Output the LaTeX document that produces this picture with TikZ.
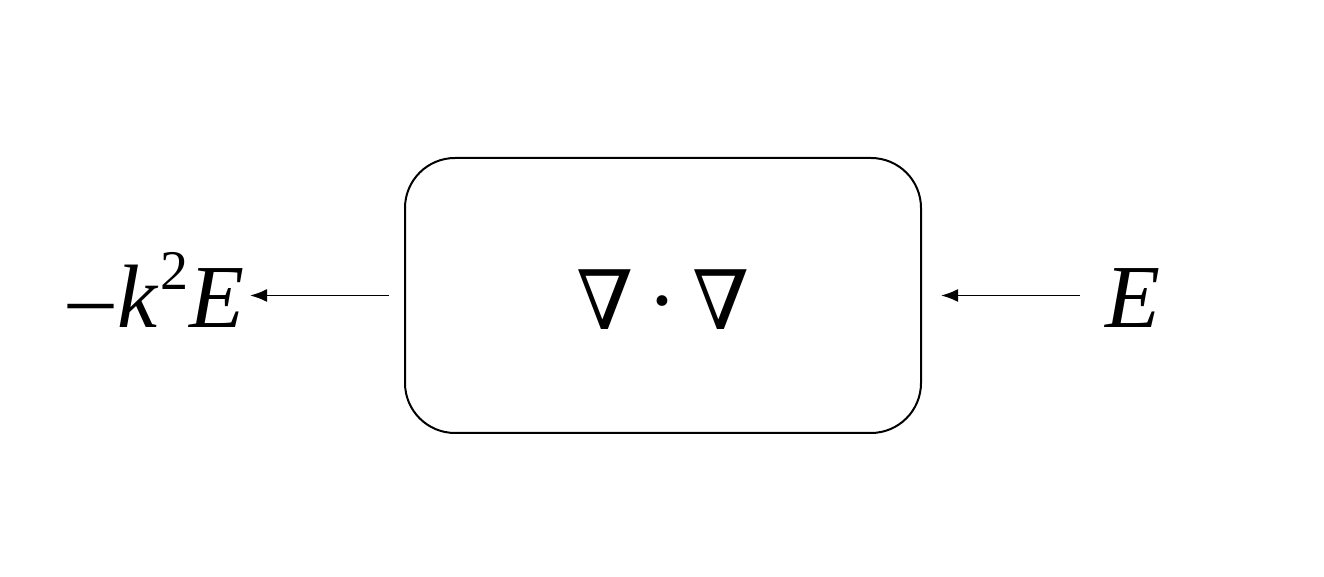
\documentclass[tikz,border=0pt]{standalone}
\usepackage{fontspec}
\setmainfont{Liberation Serif}
\newfontfamily\symfont{DejaVu Serif}
\usetikzlibrary{arrows.meta}
\tikzset{
  opbox/.style={draw, line width=2pt, rounded corners=50pt, minimum width=516pt, minimum height=275pt, inner sep=0pt},
  lbl/.style={inner sep=0pt, font=\fontsize{90}{100}\selectfont},
  arr/.style={line width=1.8pt, -{Latex[length=17pt,width=13pt]}}
}
\begin{document}
\begin{tikzpicture}[x=1pt,y=1pt]
\useasboundingbox (0,0) rectangle (1324,577);
\node[opbox] (box) at (663,281.5) {};
\node[inner sep=0pt, anchor=base, font=\symfont\fontsize{82}{90}\selectfont] (op) at (box.center |- 0,247) {∇\hspace{16pt}·\hspace{16pt}∇};
\node[lbl, anchor=base east] (out) at (245,249) {–\hspace{4pt}\textit{k}\hspace{2pt}\raisebox{38pt}{\fontsize{56}{60}\selectfont 2}\hspace{1pt}\textit{E}};
\node[lbl, anchor=base west] (inn) at (1105,249) {\textit{E}};
\draw[arr] ([xshift=-25pt]inn.west |- box.east) -- ([xshift=19pt]box.east);
\draw[arr] ([xshift=-15pt]box.west) -- ([xshift=5pt]out.east |- box.west);
\end{tikzpicture}
\end{document}
